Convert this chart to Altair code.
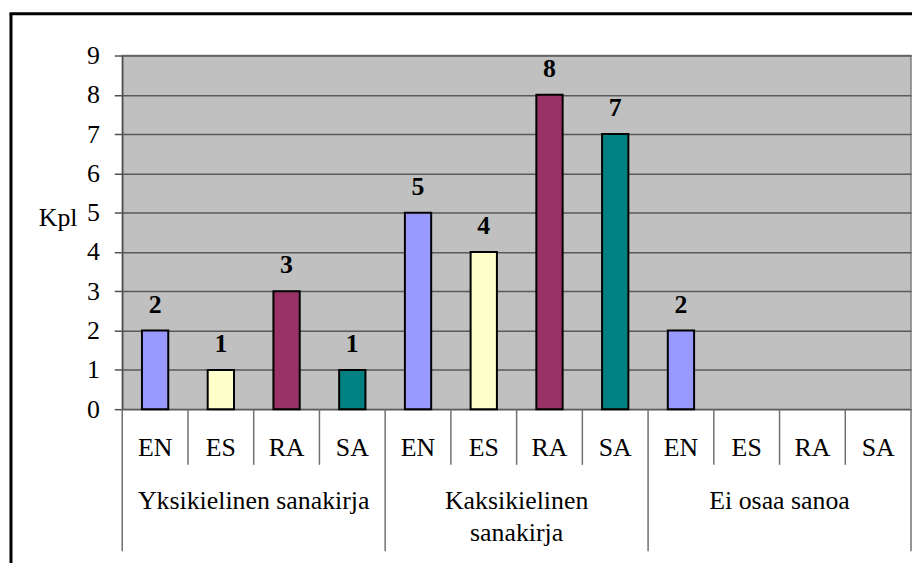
import altair as alt
import pandas as pd

# ---- data ----
groups = ["Yksikielinen sanakirja", "Kaksikielinen sanakirja", "Ei osaa sanoa"]
group_labels = ["Yksikielinen sanakirja", "Kaksikielinen\nsanakirja", "Ei osaa sanoa"]
subs = ["EN", "ES", "RA", "SA"]
values_yksikielinen = [2, 1, 3, 1]
values_kaksikielinen = [5, 4, 8, 7]
values_ei_osaa = [2, 0, 0, 0]
colors = ["#9999FF", "#FFFFCC", "#993366", "#008080"]
y_ticks = [0, 1, 2, 3, 4, 5, 6, 7, 8, 9]

all_values = [values_yksikielinen, values_kaksikielinen, values_ei_osaa]
rows = []
for g, vals in zip(groups, all_values):
    for s, v in zip(subs, vals):
        rows.append({"group": g, "sub": s, "key": f"{g}|{s}", "value": v})
df = pd.DataFrame(rows)
keys = list(df["key"])
df_nonzero = df[df["value"] > 0]
df_groups = pd.DataFrame({"key": [f"{g}|ES" for g in groups], "label": group_labels})
df_short = df[df["sub"] != "EN"]
df_long = df[df["sub"] == "EN"]
df_last = df.iloc[[-1]]

FONT = "'Times New Roman', 'Liberation Serif', serif"
FS = 26
W, H = 794, 356

xscale = alt.Scale(domain=keys, paddingInner=0, paddingOuter=0)
yscale = alt.Scale(domain=[0, 9], nice=False, zero=True)

yaxis = alt.Axis(
    values=y_ticks,
    tickCount=10,
    labelOverlap=False,
    title="Kpl",
    titleAngle=0,
    titleFont=FONT,
    titleFontSize=FS,
    titleFontWeight="normal",
    titleColor="black",
    titleAlign="center",
    titleBaseline="alphabetic",
    titleX=-65,
    titleY=171,
    labelFont=FONT,
    labelFontSize=FS,
    labelColor="black",
    labelPadding=15,
    tickSize=8,
    tickColor="#505050",
    tickWidth=1.5,
    domainColor="#505050",
    domainWidth=1.5,
    gridColor="#5a5a5a",
    gridWidth=1.5,
    grid=True,
)

bars = alt.Chart(df_nonzero).mark_bar(
    width=alt.RelativeBandSize(0.4), stroke="black", strokeWidth=2
).encode(
    x=alt.X("key:N", scale=xscale, axis=None, sort=keys),
    y=alt.Y("value:Q", scale=yscale, axis=yaxis),
    color=alt.Color("sub:N", scale=alt.Scale(domain=subs, range=colors), legend=None),
)

bar_labels = alt.Chart(df_nonzero).mark_text(
    font=FONT, fontSize=FS, fontWeight="bold", color="black", dy=-18, baseline="alphabetic"
).encode(
    x=alt.X("key:N", scale=xscale, axis=None, sort=keys),
    y=alt.Y("value:Q", scale=yscale, axis=yaxis),
    text="value:Q",
)

sub_labels = alt.Chart(df).mark_text(
    font=FONT, fontSize=FS, color="black", baseline="alphabetic"
).encode(
    x=alt.X("key:N", scale=xscale, axis=None, sort=keys),
    y=alt.value(403),
    text="sub:N",
)

group_text = alt.Chart(df_groups).mark_text(
    font=FONT, fontSize=FS, color="black", baseline="alphabetic", lineBreak="\n", lineHeight=33
).encode(
    x=alt.X("key:N", scale=xscale, axis=None, sort=keys, bandPosition=1),
    y=alt.value(456),
    text="label:N",
)

short_sep = alt.Chart(df_short).mark_rule(color="#707070", strokeWidth=1.5).encode(
    x=alt.X("key:N", scale=xscale, axis=None, sort=keys, bandPosition=0),
    y=alt.value(H),
    y2=alt.value(H + 56),
)
long_sep = alt.Chart(df_long).mark_rule(color="#707070", strokeWidth=1.5).encode(
    x=alt.X("key:N", scale=xscale, axis=None, sort=keys, bandPosition=0),
    y=alt.value(H),
    y2=alt.value(H + 143),
)
last_sep = alt.Chart(df_last).mark_rule(color="#707070", strokeWidth=1.5).encode(
    x=alt.X("key:N", scale=xscale, axis=None, sort=keys, bandPosition=1),
    y=alt.value(H),
    y2=alt.value(H + 143),
)

border_left = alt.Chart(df_last).mark_rule(color="black", strokeWidth=3).encode(
    x=alt.value(-112), y=alt.value(-42), y2=alt.value(H + 300)
)
border_top = alt.Chart(df_last).mark_rule(color="black", strokeWidth=3).encode(
    x=alt.value(-113.5), x2=alt.value(W + 100), y=alt.value(-42)
)

chart = alt.layer(
    bars, bar_labels, sub_labels, group_text, short_sep, long_sep, last_sep, border_left, border_top
).properties(
    width=W,
    height=H,
    autosize=alt.AutoSizeParams(type="none"),
    padding={"left": 115, "top": 46, "right": 1, "bottom": 153},
    background="white",
).configure_view(
    fill="#C0C0C0", stroke="#808080", strokeWidth=1.5
)

chart.save("out.html", embed_options={"renderer": "svg", "actions": False})
